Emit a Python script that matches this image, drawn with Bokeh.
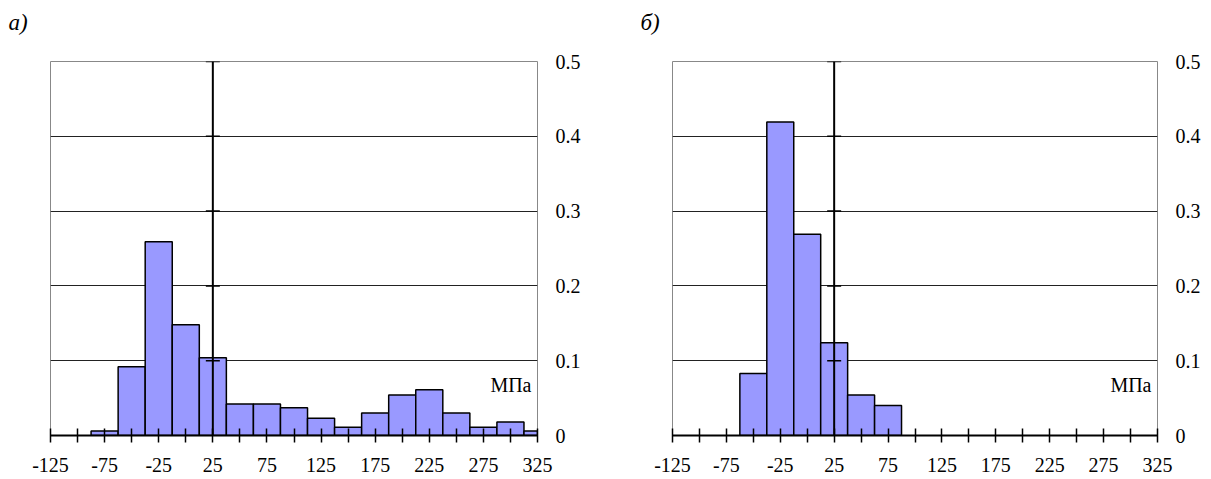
from bokeh.plotting import figure
from bokeh.models import Range1d, FixedTicker, Label, Span
from bokeh.layouts import row
from bokeh.embed import file_html
from bokeh.resources import INLINE

# ---- data ----
bin_centers_a = [-75, -50, -25, 0, 25, 50, 75, 100, 125, 150, 175, 200, 225, 250, 275, 300, 325]
freq_a = [0.006, 0.092, 0.259, 0.148, 0.104, 0.042, 0.042, 0.037, 0.023, 0.011,
          0.030, 0.054, 0.061, 0.030, 0.011, 0.018, 0.006]
bin_centers_b = [-50, -25, 0, 25, 50, 75]
freq_b = [0.083, 0.419, 0.269, 0.124, 0.054, 0.040]

x_major_ticks = [-125, -75, -25, 25, 75, 125, 175, 225, 275, 325]
x_tick_labels = ["-125", "-75", "-25", "25", "75", "125", "175", "225", "275", "325"]
x_minor_ticks = [-100, -50, 0, 50, 100, 150, 200, 250, 300]
y_ticks = [0, 0.1, 0.2, 0.3, 0.4, 0.5]
y_tick_labels = ["0", "0.1", "0.2", "0.3", "0.4", "0.5"]
grid_ticks = [0.1, 0.2, 0.3, 0.4]
center_axis_ticks = [0.1, 0.2, 0.3, 0.4, 0.5]
panel_labels = ["а)", "б)"]
unit_label = "МПа"

BIN_WIDTH = 25
AXIS_X = 25
X_START, X_END = -125, 325
Y_START, Y_END = 0, 0.5

FONT = "Liberation Serif"
BAR_COLOR = "#9999FF"


def make_panel(centers, freqs, title, border_left, frame_w, border_right, title_off, unit_off):
    p = figure(
        frame_width=frame_w, frame_height=374,
        min_border_left=border_left, min_border_right=border_right,
        min_border_top=61, min_border_bottom=44,
        x_range=Range1d(X_START, X_END), y_range=Range1d(Y_START, Y_END),
        y_axis_location="right",
        toolbar_location=None, output_backend="svg",
        background_fill_color="white", border_fill_color="white",
        title=title + "\n",
    )
    p.outline_line_color = "#888888"
    p.outline_line_width = 1

    # panel letter as title (trailing empty line lifts it above the frame)
    p.title.align = "left"
    p.title.vertical_align = "top"
    p.title.offset = title_off
    p.title.standoff = 0
    p.title.text_line_height = 1.0
    p.title.text_font = FONT
    p.title.text_font_style = "italic"
    p.title.text_font_size = "23px"
    p.title.text_color = "black"

    # grid
    p.xgrid.visible = False
    p.ygrid.ticker = FixedTicker(ticks=grid_ticks)
    p.ygrid.grid_line_color = "#222222"
    p.ygrid.grid_line_width = 1

    # bars
    p.vbar(x=centers, top=freqs, bottom=0, width=BIN_WIDTH,
           fill_color=BAR_COLOR, line_color="black", line_width=1.5)

    # vertical axis line through x = 25 with crossing ticks
    p.add_layout(Span(location=AXIS_X, dimension="height",
                      line_color="black", line_width=2))
    p.scatter(x=[AXIS_X] * len(center_axis_ticks), y=center_axis_ticks,
              marker="dash", size=14, line_color="black", line_width=1.5)

    # bottom axis
    xa = p.below[0]
    xa.ticker = FixedTicker(ticks=x_major_ticks, minor_ticks=x_minor_ticks)
    xa.major_label_overrides = {t: s for t, s in zip(x_major_ticks, x_tick_labels)}
    xa.axis_line_width = 2
    xa.axis_line_color = "black"
    xa.major_tick_in = 7
    xa.major_tick_out = 7
    xa.minor_tick_in = 7
    xa.minor_tick_out = 7
    xa.major_tick_line_width = 1.5
    xa.minor_tick_line_width = 1.5
    xa.major_tick_line_color = "black"
    xa.minor_tick_line_color = "black"
    xa.major_label_standoff = 15
    xa.major_label_text_font = FONT
    xa.major_label_text_font_size = "20px"
    xa.major_label_text_color = "black"

    # right axis (labels only)
    ya = p.right[0]
    ya.ticker = FixedTicker(ticks=y_ticks)
    ya.major_label_overrides = {t: s for t, s in zip(y_ticks, y_tick_labels)}
    ya.axis_line_color = None
    ya.major_tick_line_color = None
    ya.minor_tick_line_color = None
    ya.major_tick_in = 0
    ya.major_tick_out = 0
    ya.major_label_standoff = 18
    ya.major_label_text_font = FONT
    ya.major_label_text_font_size = "20px"
    ya.major_label_text_color = "black"

    # unit label
    p.add_layout(Label(x=X_END, y=0.067, x_offset=unit_off, text=unit_label,
                       text_font=FONT, text_font_size="20px",
                       text_align="right", text_baseline="alphabetic",
                       text_color="black"))
    return p


p1 = make_panel(bin_centers_a, freq_a, panel_labels[0], 50, 487, 71, -42, -6)
p2 = make_panel(bin_centers_b, freq_b, panel_labels[1], 64, 485, 46, -32, -6)

layout = row(p1, p2)
open("out.html", "w").write(file_html(layout, INLINE))
